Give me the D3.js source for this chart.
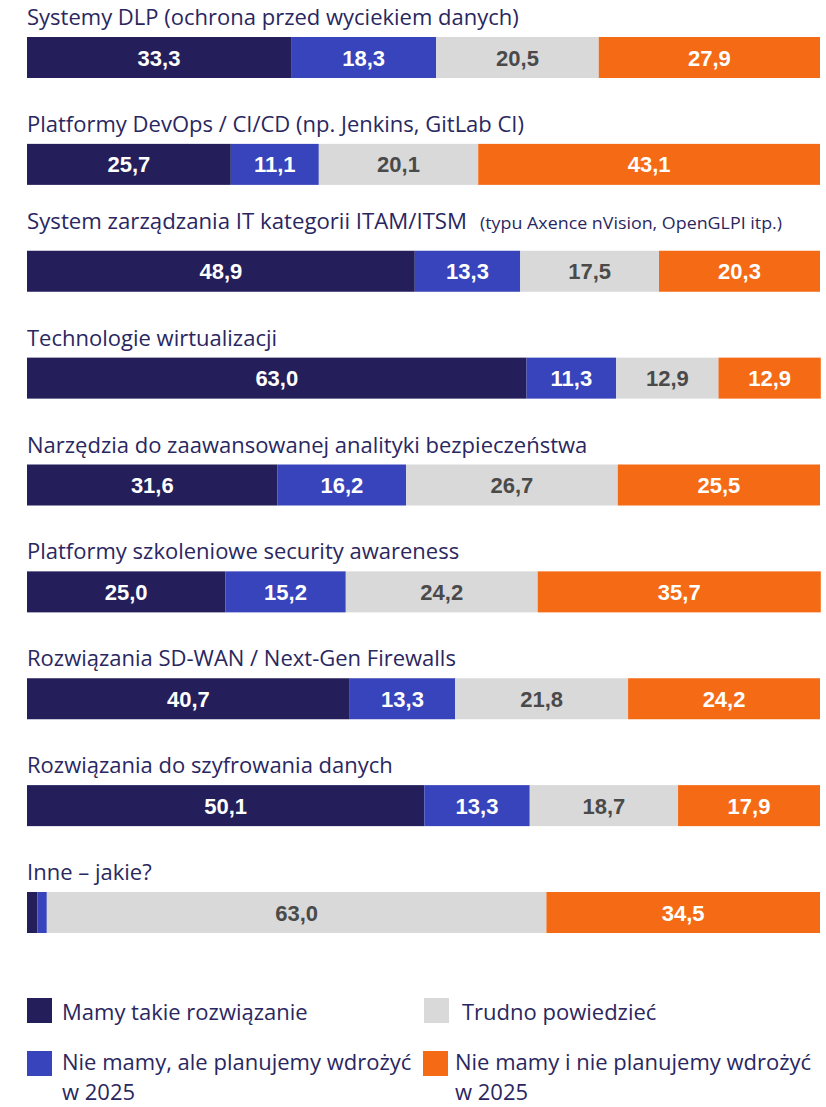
<!DOCTYPE html>
<html>
<head>
<meta charset="utf-8">
<script src="https://cdn.jsdelivr.net/npm/d3@7"></script>
<style>
  html, body { margin: 0; padding: 0; background: #ffffff; }
  svg { display: block; }
</style>
</head>
<body>
<svg id="chart" width="826" height="1107"></svg>
<script>
// ---- data ----
const categories = [
  "Systemy DLP (ochrona przed wyciekiem danych)",
  "Platformy DevOps / CI/CD (np. Jenkins, GitLab CI)",
  "System zarządzania IT kategorii ITAM/ITSM",
  "Technologie wirtualizacji",
  "Narzędzia do zaawansowanej analityki bezpieczeństwa",
  "Platformy szkoleniowe security awareness",
  "Rozwiązania SD-WAN / Next-Gen Firewalls",
  "Rozwiązania do szyfrowania danych",
  "Inne – jakie?"
];
const categoryNotes = ["", "", "(typu Axence nVision, OpenGLPI itp.)", "", "", "", "", "", ""];
const seriesNames = [
  "Mamy takie rozwiązanie",
  "Nie mamy, ale planujemy wdrożyć w 2025",
  "Trudno powiedzieć",
  "Nie mamy i nie planujemy wdrożyć w 2025"
];
const mamy      = [33.3, 25.7, 48.9, 63.0, 31.6, 25.0, 40.7, 50.1, 1.3];
const planujemy = [18.3, 11.1, 13.3, 11.3, 16.2, 15.2, 13.3, 13.3, 1.2];
const trudno    = [20.5, 20.1, 17.5, 12.9, 26.7, 24.2, 21.8, 18.7, 63.0];
const nie       = [27.9, 43.1, 20.3, 12.9, 25.5, 35.7, 24.2, 17.9, 34.5];
const seriesValues = [mamy, planujemy, trudno, nie];

// ---- styles ----
const colors = ["#241f5b", "#3744bb", "#d9d9d9", "#f56a15"];
const labelColors = ["#ffffff", "#ffffff", "#4a4a4a", "#ffffff"];
const navy = "#2a2760";
const titleFont = "Open Sans, Noto Sans, sans-serif";

const svg = d3.select("#chart");

const x = d3.scaleLinear().domain([0, 100]).range([27, 820]);
const step = (892 - 37) / 8;
const y = d3.scaleBand().domain(d3.range(categories.length))
  .range([37, 37 + step * categories.length]).paddingInner(0).paddingOuter(0);
const barH = 41;

// build stacked rows
const rows = categories.map((c, i) => {
  const obj = { i };
  seriesValues.forEach((s, k) => obj[k] = s[i]);
  return obj;
});
const stacked = d3.stack().keys([0, 1, 2, 3])(rows);

// titles
categories.forEach((c, i) => {
  const ty = y(i) - 12 - (i === 2 ? 10 : 0);
  const t = svg.append("text")
    .attr("x", 27).attr("y", ty)
    .attr("font-family", titleFont)
    .attr("font-size", 22)
    .attr("fill", navy)
    .text(c);
  if (categoryNotes[i]) {
    t.attr("textLength", 440).attr("lengthAdjust", "spacingAndGlyphs");
    svg.append("text")
      .attr("x", 480).attr("y", ty)
      .attr("font-family", titleFont)
      .attr("font-size", 16.5)
      .attr("fill", navy)
      .attr("textLength", 302).attr("lengthAdjust", "spacingAndGlyphs")
      .text(categoryNotes[i]);
  }
});

// bars
const layers = svg.append("g").selectAll("g").data(stacked).join("g")
  .attr("fill", (d, k) => colors[k]);
layers.selectAll("rect").data(d => d).join("rect")
  .attr("x", d => x(d[0]))
  .attr("y", (d, i) => y(i))
  .attr("width", d => x(d[1]) - x(d[0]))
  .attr("height", barH);

// labels
const fmt = v => d3.format(".1f")(v).replace(".", ",");
const labelLayers = svg.append("g").selectAll("g").data(stacked).join("g");
labelLayers.each(function (layer, k) {
  d3.select(this).selectAll("text").data(layer.filter(d => (d[1] - d[0]) >= 5)).join("text")
    .attr("x", d => (x(d[0]) + x(d[1])) / 2)
    .attr("y", d => y(d.data.i) + barH / 2 + 8)
    .attr("text-anchor", "middle")
    .attr("font-family", "Liberation Sans, Arial, sans-serif")
    .attr("font-weight", "bold")
    .attr("font-size", 22)
    .attr("fill", labelColors[k])
    .text(d => fmt(d[1] - d[0]));
});

// legend
const legendItems = [
  { k: 0, x: 27, y: 998, lines: ["Mamy takie rozwiązanie"], tx: 62 },
  { k: 2, x: 424, y: 998, lines: ["Trudno powiedzieć"], tx: 462 },
  { k: 1, x: 27, y: 1051, lines: ["Nie mamy, ale planujemy wdrożyć", "w 2025"], tx: 62 },
  { k: 3, x: 423, y: 1051, lines: ["Nie mamy i nie planujemy wdrożyć", "w 2025"], tx: 455 }
];
const lg = svg.append("g").selectAll("g").data(legendItems).join("g");
lg.append("rect")
  .attr("x", d => d.x).attr("y", d => d.y)
  .attr("width", 25).attr("height", 25)
  .attr("fill", d => colors[d.k]);
lg.each(function (d) {
  const t = d3.select(this).append("text")
    .attr("font-family", titleFont)
    .attr("font-size", 22)
    .attr("fill", navy);
  d.lines.forEach((ln, j) => {
    t.append("tspan").attr("x", d.tx).attr("y", d.y + (d.lines.length > 1 ? 19 : 22) + j * 30).text(ln);
  });
});
</script>
</body>
</html>
